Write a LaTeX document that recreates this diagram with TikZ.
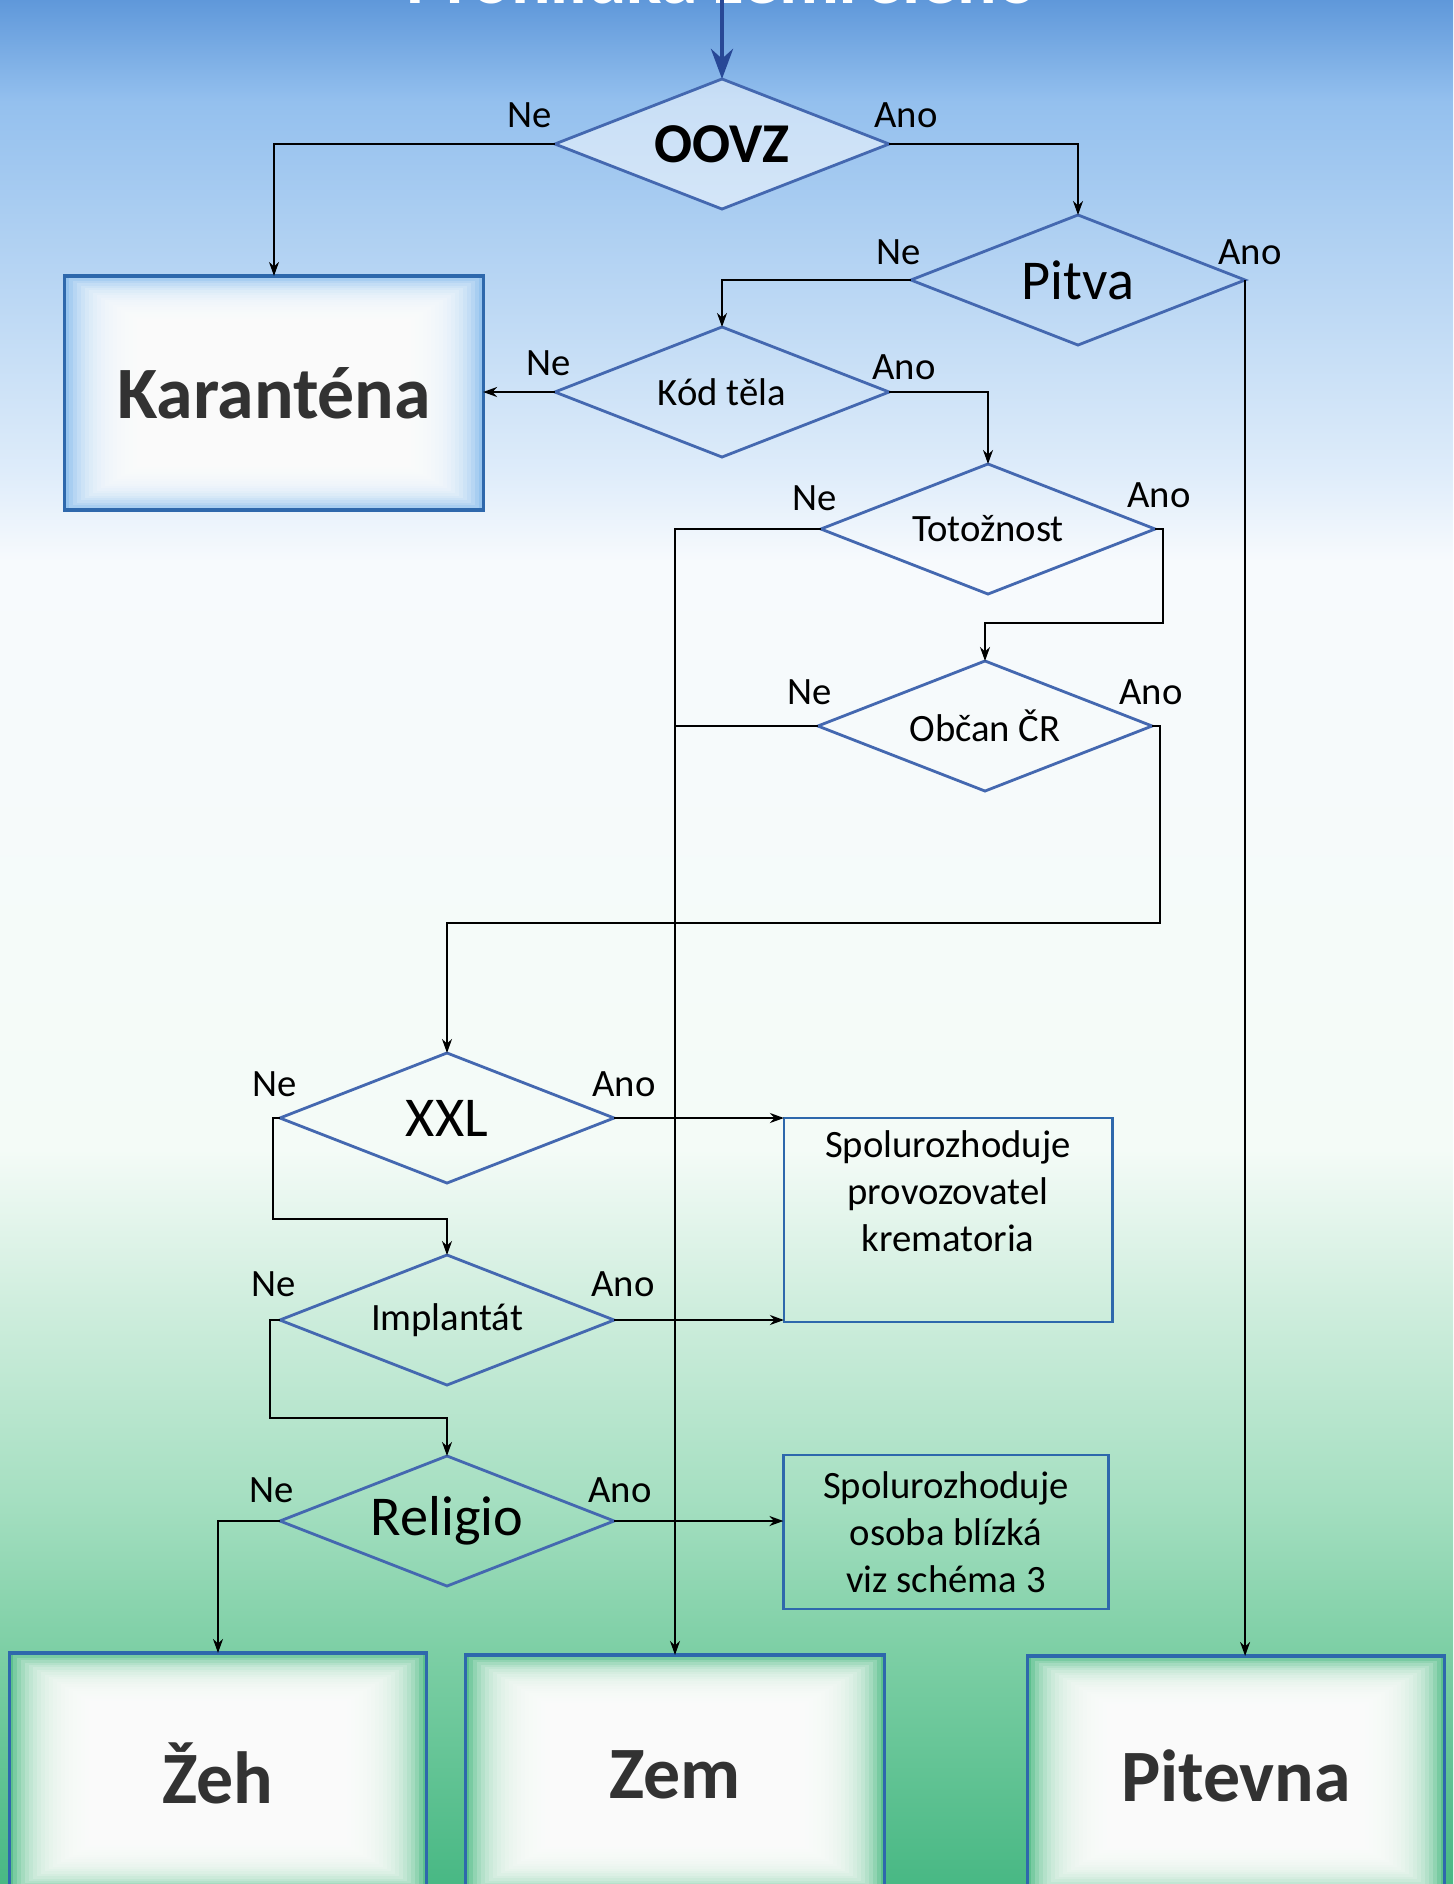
\documentclass[tikz,border=0pt]{standalone}
\usepackage{fontspec}
\setmainfont{Carlito}
\usepackage{tikz}
\usetikzlibrary{shapes.geometric,arrows.meta}

\definecolor{lineblue}{RGB}{68,104,176}
\definecolor{boxblue}{RGB}{46,104,172}
\definecolor{arrowblue}{RGB}{40,72,150}
\definecolor{textgray}{RGB}{50,50,50}
\definecolor{kblue}{RGB}{150,196,238}
\definecolor{kgreen}{RGB}{92,192,142}
% background, bottom to top
\definecolor{bgA}{RGB}{72,184,132}
\definecolor{bgB}{RGB}{125,207,165}
\definecolor{bgC}{RGB}{165,223,193}
\definecolor{bgD}{RGB}{208,238,222}
\definecolor{bgE}{RGB}{244,251,247}
\definecolor{bgF}{RGB}{247,250,253}
\definecolor{bgG}{RGB}{222,236,250}
\definecolor{bgH}{RGB}{188,216,244}
\definecolor{bgI}{RGB}{148,192,238}
\definecolor{bgJ}{RGB}{95,152,218}
\pgfdeclareverticalshading{skyfield}{100bp}{color(0bp)=(bgA); color(25bp)=(bgA);
  color(31.2bp)=(bgB); color(35.2bp)=(bgC); color(40.5bp)=(bgD); color(44.5bp)=(bgE);
  color(60.1bp)=(bgF); color(62.5bp)=(bgG); color(67bp)=(bgH); color(72.3bp)=(bgI);
  color(75bp)=(bgJ); color(100bp)=(bgJ)}

\begin{document}
\begin{tikzpicture}[x=0.01cm, y=-0.01cm,
    decision/.style={diamond, draw=lineblue, line width=0.8pt, aspect=2.6, inner sep=0pt, outer sep=0pt,
      minimum width=3.34cm, minimum height=1.3cm, font=\fontsize{11}{13}\selectfont},
    bigdecision/.style={decision, font=\fontsize{16}{19}\selectfont},
    answer/.style={font=\fontsize{11}{13}\selectfont, inner sep=1pt},
    flow/.style={line width=0.55pt, -{Stealth[length=1.4mm, width=1mm]}},
    joinline/.style={line width=0.55pt},
    entryarrow/.style={draw=arrowblue, line width=1.3pt, -{Stealth[length=3mm, width=2.2mm]}},
    infobox/.style={draw=boxblue, line width=0.8pt, outer sep=0pt, align=center, font=\fontsize{11}{13.3}\selectfont},
    glowbox/.style={draw=boxblue, line width=0.9pt, fill=#1, outer sep=0pt, text=textgray,
      font=\fontsize{21}{25}\selectfont\bfseries,
      path picture={\foreach \g in {1,...,20}
        \fill[white, opacity=0.18] ([shift={(\g*0.04cm,\g*0.024cm)}]path picture bounding box.south west)
          rectangle ([shift={(-\g*0.04cm,-\g*0.024cm)}]path picture bounding box.north east);}},
  ]
  \useasboundingbox (0,0) rectangle (1453,1884);
  \clip (0,0) rectangle (1453,1884);
  \shade[shading=skyfield] (0,0) rectangle (1453,1884);

  \node[font=\fontsize{21}{25}\selectfont\bfseries, text=white, anchor=base, inner sep=0pt] (titul) at (722,3) {Prohlídka zemřelého};
  \coordinate (vstup) at (722,0);

  % decisions
  \node[bigdecision, font=\fontsize{16}{19}\selectfont\bfseries, fill=white, fill opacity=0.5, text opacity=1] (oovz) at (722,144) {OOVZ};
  \node[bigdecision] (pitva) at (1078,280) {Pitva};
  \node[decision] (kod) at (722,392) {Kód těla};
  \node[decision] (totoz) at (988,529) {Totožnost};
  \node[decision] (obcan) at (985,726) {Občan ČR};
  \node[bigdecision] (xxl) at (447,1118) {XXL};
  \node[decision] (implant) at (447,1320) {Implantát};
  \node[bigdecision] (religio) at (447,1521) {Religio};

  % end boxes
  \node[glowbox=kblue, minimum width=4.18cm, minimum height=2.34cm] (karantena) at (274,393) {Karanténa};
  \node[glowbox=kgreen, minimum width=4.17cm, minimum height=2.4cm] (zeh) at (218,1773) {Žeh};
  \node[glowbox=kgreen, minimum width=4.19cm, minimum height=2.4cm] (zem) at (675,1775) {Zem};
  \node[glowbox=kgreen, minimum width=4.17cm, minimum height=2.4cm] (pitevna) at (1236,1776) {Pitevna};

  \node[infobox, minimum width=3.28cm, minimum height=2.04cm] (krem) at (948,1220) {};
  \node[infobox, draw=none, anchor=north] (kremtext) at (948,1119) {Spolurozhoduje\\provozovatel\\krematoria};
  \node[infobox, minimum width=3.25cm, minimum height=1.54cm] (blizka) at (946,1532) {Spolurozhoduje\\osoba blízká\\viz schéma 3};

  % Ne / Ano
  \node[answer] (oovzne) at (530,115) {Ne};
  \node[answer] (oovzano) at (906,115) {Ano};
  \node[answer] (pitvane) at (899,252) {Ne};
  \node[answer] (pitvaano) at (1250,252) {Ano};
  \node[answer] (kodne) at (549,363) {Ne};
  \node[answer] (kodano) at (904,367) {Ano};
  \node[answer] (totozne) at (815,498) {Ne};
  \node[answer] (totozano) at (1159,495) {Ano};
  \node[answer] (obcanne) at (810,692) {Ne};
  \node[answer] (obcanano) at (1151,692) {Ano};
  \node[answer] (xxlne) at (275,1084) {Ne};
  \node[answer] (xxlano) at (624,1084) {Ano};
  \node[answer] (implantne) at (274,1284) {Ne};
  \node[answer] (implantano) at (623,1284) {Ano};
  \node[answer] (religione) at (272,1490) {Ne};
  \node[answer] (religioano) at (620,1490) {Ano};

  % connectors
  \draw[entryarrow] (vstup) -- (oovz.north);
  \draw[flow] (oovz.west) -| (karantena.north);
  \draw[flow] (oovz.east) -| (pitva.north);
  \draw[flow] (pitva.west) -| (kod.north);
  \draw[flow] (pitva.east) -- (pitva.east |- pitevna.north);
  \draw[flow] (kod.west) -- (karantena.east |- kod.west);
  \draw[flow] (kod.east) -| (totoz.north);
  \draw[flow] (totoz.west) -| (zem.north);
  \coordinate (totozohyb) at (1163,623);
  \draw[flow] (totoz.east) -| (totozohyb) -| (obcan.north);
  \draw[joinline] (obcan.west) -- (obcan.west -| zem.north);
  \coordinate (obcanohyb) at (1160,923);
  \draw[flow] (obcan.east) -| (obcanohyb) -| (xxl.north);
  \draw[flow] (xxl.east) -- (xxl.east -| krem.west);
  \coordinate (xxlohyb) at (273,1219);
  \draw[flow] (xxl.west) -| (xxlohyb) -| (implant.north);
  \draw[flow] (implant.east) -- (implant.east -| krem.west);
  \coordinate (implantohyb) at (270,1418);
  \draw[flow] (implant.west) -| (implantohyb) -| (religio.north);
  \draw[flow] (religio.east) -- (religio.east -| blizka.west);
  \draw[flow] (religio.west) -| (zeh.north);
\end{tikzpicture}
\end{document}
